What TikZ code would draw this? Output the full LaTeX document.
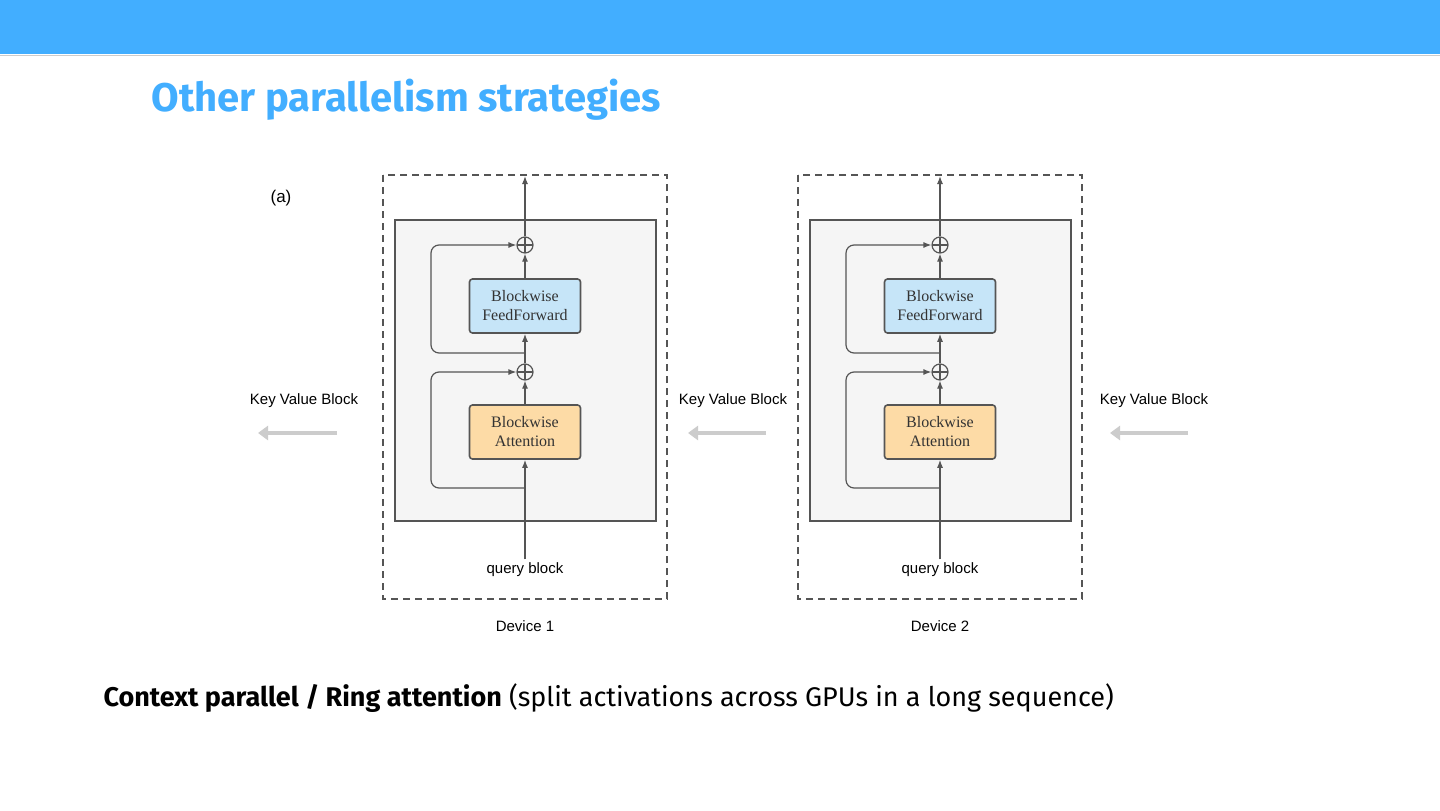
\documentclass[tikz,border=0pt]{standalone}
\usepackage{fontspec}
\setmainfont{Fira Sans}
\newfontfamily\arialf{Liberation Sans}
\newfontfamily\timesf{Liberation Serif}
\usetikzlibrary{arrows.meta}
\definecolor{banner}{HTML}{42AEFF}
\definecolor{ffblue}{HTML}{C6E5F8}
\definecolor{attor}{HTML}{FDDBA6}
\definecolor{ln}{HTML}{555555}
\begin{document}
\begin{tikzpicture}[x=1pt,y=-1pt,
  lbl/.style={font=\arialf\fontsize{15}{17}\selectfont, text=black},
  blk/.style={draw=ln, line width=1.6pt, rounded corners=3pt, minimum width=111pt, minimum height=54pt, align=center, font=\timesf\fontsize{16}{19}\selectfont, text=black!80, inner sep=1pt},
  plus/.style={circle, draw=ln, line width=1.2pt, minimum size=16pt, inner sep=0pt, path picture={\draw[ln,line width=1.2pt] (path picture bounding box.north)--(path picture bounding box.south) (path picture bounding box.west)--(path picture bounding box.east);}},
  con/.style={draw=ln, line width=1.2pt, -{Latex[length=8pt,width=6pt]}, rounded corners=8pt},
  kv/.style={draw=black!20, line width=4pt, -{Triangle[length=10pt,width=14pt]}}]
\useasboundingbox (0,0) rectangle (1440,811);
\fill[white] (0,0) rectangle (1440,811);
\fill[banner] (0,0) rectangle (1440,54);
\draw[black!20] (0,55) -- (1440,55);
\node[anchor=west, text=banner, font=\fontsize{40}{46}\selectfont\bfseries] (title) at (148,100) {Other parallelism strategies};
\node[anchor=west, font=\fontsize{27}{32}\selectfont] (bottom) at (100,698) {\textbf{Context parallel / Ring attention} (split activations across GPUs in a long sequence)};
\node[lbl, font=\arialf\fontsize{17}{19}\selectfont] (a) at (281,198) {(a)};
\foreach \dx/\n in {0/1,415/2}{
  \begin{scope}[xshift=\dx pt]
  \draw[ln, line width=1.3pt, dash pattern=on 7pt off 5pt] (383,175) rectangle (667,599);
  \draw[ln, line width=2pt, fill=black!4] (395,220) rectangle (656,521);
  \node[blk, fill=ffblue] (ff\n) at (525,306) {Blockwise\\FeedForward};
  \node[blk, fill=attor] (at\n) at (525,432) {Blockwise\\Attention};
  \node[plus] (p1\n) at (525,372) {};
  \node[plus] (p2\n) at (525,245) {};
  \node[lbl] (q\n) at (525,570) {query block};
  \node[lbl] (d\n) at (525,626) {Device \n};
  \coordinate (top\n) at (525,176);
  \coordinate (b\n) at (525,488);
  \coordinate (m\n) at (525,353);
  \draw[con, rounded corners=0pt] (q\n.north) -- (at\n.south);
  \draw[con] (at\n.north) -- (p1\n.south);
  \draw[con] (p1\n.north) -- (ff\n.south);
  \draw[con] (ff\n.north) -- (p2\n.south);
  \draw[con] (p2\n.north) -- (top\n);
  \draw[con] (b\n) -- (431,488) -- (431,372) -- (p1\n.west);
  \draw[con] (m\n) -- (431,353) -- (431,245) -- (p2\n.west);
  \end{scope}
}
\foreach \x/\n in {304/1,733/2,1154/3}{
  \node[lbl] (kv\n) at (\x,401) {Key Value Block};
}
\coordinate (s1) at (337,433); \coordinate (e1) at (258,433);
\coordinate (s2) at (766,433); \coordinate (e2) at (688,433);
\coordinate (s3) at (1188,433); \coordinate (e3) at (1110,433);
\draw[kv] (s1) -- (e1);
\draw[kv] (s2) -- (e2);
\draw[kv] (s3) -- (e3);
\end{tikzpicture}
\end{document}
